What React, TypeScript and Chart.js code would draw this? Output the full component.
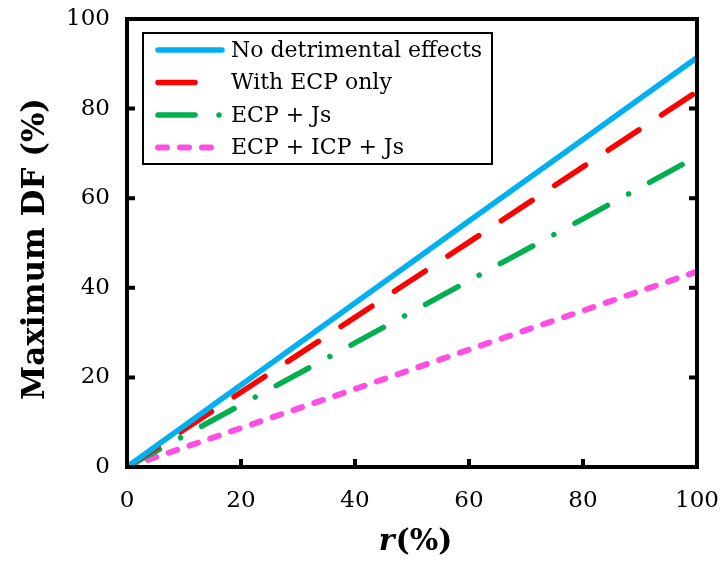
import React, { useEffect, useRef } from 'react';
import { Chart, registerables } from 'chart.js';

Chart.register(...registerables);

const rPercent = [0, 20, 40, 60, 80, 100];
const noDetrimental = [0, 18.3, 36.6, 54.9, 73.1, 91.4];
const withEcpOnly = [0, 16.7, 33.4, 50.2, 67.0, 83.8];
const ecpJs = [0, 13.9, 27.7, 41.6, 55.4, 69.3];
const ecpIcpJs = [0, 8.7, 17.4, 26.2, 34.9, 43.6];
const seriesLabels = ['No detrimental effects', 'With ECP only', 'ECP + Js', 'ECP + ICP + Js'];
const seriesColors = ['#00B0F0', '#FF0000', '#00B050', '#FF4FE3'];
const tickValues = [0, 20, 40, 60, 80, 100];

const SERIF = '"DejaVu Serif", serif';

const framePlugin = {
  id: 'framePlugin',
  afterDatasetsDraw(chart: any) {
    const { ctx, chartArea: a, scales } = chart;
    const xs = scales.x;
    const ys = scales.y;
    ctx.save();
    ctx.strokeStyle = '#000';
    ctx.lineWidth = 4;
    ctx.lineCap = 'butt';
    ctx.setLineDash([]);
    ctx.strokeRect(a.left, a.top, a.right - a.left, a.bottom - a.top);
    const tl = 8;
    ctx.beginPath();
    tickValues.forEach((v) => {
      const px = xs.getPixelForValue(v);
      ctx.moveTo(px, a.bottom);
      ctx.lineTo(px, a.bottom - tl);
      const py = ys.getPixelForValue(v);
      ctx.moveTo(a.left, py);
      ctx.lineTo(a.left + tl, py);
      ctx.moveTo(a.right, py);
      ctx.lineTo(a.right - tl, py);
    });
    ctx.stroke();

    // legend
    const L = { left: 143, top: 33, right: 492, bottom: 164 };
    ctx.fillStyle = '#fff';
    ctx.fillRect(L.left, L.top, L.right - L.left, L.bottom - L.top);
    ctx.lineWidth = 2;
    ctx.strokeRect(L.left, L.top, L.right - L.left, L.bottom - L.top);
    const rowY = [50, 82.5, 115, 147.5];
    chart.data.datasets.forEach((ds: any, i: number) => {
      const y = rowY[i];
      ctx.save();
      ctx.strokeStyle = ds.borderColor;
      ctx.lineWidth = ds.borderWidth;
      ctx.lineCap = 'round';
      ctx.setLineDash(ds.borderDash || []);
      ctx.beginPath();
      ctx.moveTo(158, y);
      ctx.lineTo(222, y);
      ctx.stroke();
      ctx.restore();
      ctx.fillStyle = '#000';
      ctx.font = `22px ${SERIF}`;
      ctx.textBaseline = 'middle';
      ctx.textAlign = 'left';
      ctx.fillText(ds.label, 231, y + 1);
    });
    ctx.restore();
  },
  afterDraw(chart: any) {
    const { ctx } = chart;
    ctx.save();
    ctx.fillStyle = '#000';
    ctx.font = `bold 31px ${SERIF}`;
    ctx.textAlign = 'center';
    ctx.textBaseline = 'middle';
    ctx.translate(36, 249);
    ctx.rotate(-Math.PI / 2);
    ctx.fillText('Maximum DF (%)', 0, 0);
    ctx.restore();
    ctx.save();
    ctx.fillStyle = '#000';
    ctx.textBaseline = 'middle';
    ctx.textAlign = 'left';
    const fR = `italic bold 30px ${SERIF}`;
    const fP = `bold 30px ${SERIF}`;
    ctx.font = fR;
    const wR = ctx.measureText('r').width;
    ctx.font = fP;
    const wP = ctx.measureText('(%)').width;
    const cx = 415;
    const x0 = cx - (wR + wP) / 2;
    ctx.font = fR;
    ctx.fillText('r', x0, 542);
    ctx.font = fP;
    ctx.fillText('(%)', x0 + wR + 1, 542);
    ctx.restore();
  },
};

export default function App() {
  const ref = useRef<HTMLCanvasElement | null>(null);
  useEffect(() => {
    if (!ref.current) return;
    const seriesValues = [noDetrimental, withEcpOnly, ecpJs, ecpIcpJs];
    const dashes = [[], [37, 27], [37, 24, 0.01, 24], [9, 13]];
    const widths = [5.5, 5.5, 5.5, 6];
    const chart = new Chart(ref.current, {
      type: 'line',
      data: {
        datasets: seriesValues.map((vals, i) => ({
          label: seriesLabels[i],
          data: rPercent.map((x, j) => ({ x, y: vals[j] })),
          borderColor: seriesColors[i],
          backgroundColor: seriesColors[i],
          borderWidth: widths[i],
          borderDash: dashes[i],
          borderCapStyle: 'round',
          pointRadius: 0,
          fill: false,
          tension: 0,
        })),
      },
      options: {
        animation: false,
        responsive: false,
        devicePixelRatio: 1,
        layout: { padding: { left: 0, right: 24, top: 19, bottom: 0 } },
        plugins: { legend: { display: false }, tooltip: { enabled: false }, title: { display: false } },
        scales: {
          x: {
            type: 'linear',
            min: 0,
            max: 100,
            grid: { display: false, drawTicks: false },
            border: { display: false },
            ticks: {
              stepSize: 20,
              autoSkip: false,
              maxRotation: 0,
              padding: 20,
              color: '#000',
              font: { family: SERIF, size: 23 },
            },
            afterFit: (s: any) => {
              s.height = 96;
              s.paddingLeft = 0;
              s.paddingRight = 0;
            },
          },
          y: {
            type: 'linear',
            min: 0,
            max: 100,
            grid: { display: false, drawTicks: false },
            border: { display: false },
            ticks: {
              stepSize: 20,
              autoSkip: false,
              padding: 17,
              color: '#000',
              font: { family: SERIF, size: 23 },
            },
            afterFit: (s: any) => {
              s.width = 127;
              s.paddingTop = 0;
              s.paddingBottom = 0;
            },
          },
        },
      },
      plugins: [framePlugin],
    } as any);
    return () => chart.destroy();
  }, []);
  return (
    <div style={{ position: 'fixed', left: 0, top: 0, width: 721, height: 563, background: '#fff' }}>
      <canvas ref={ref} width={721} height={563} style={{ width: 721, height: 563, display: 'block' }} />
    </div>
  );
}
